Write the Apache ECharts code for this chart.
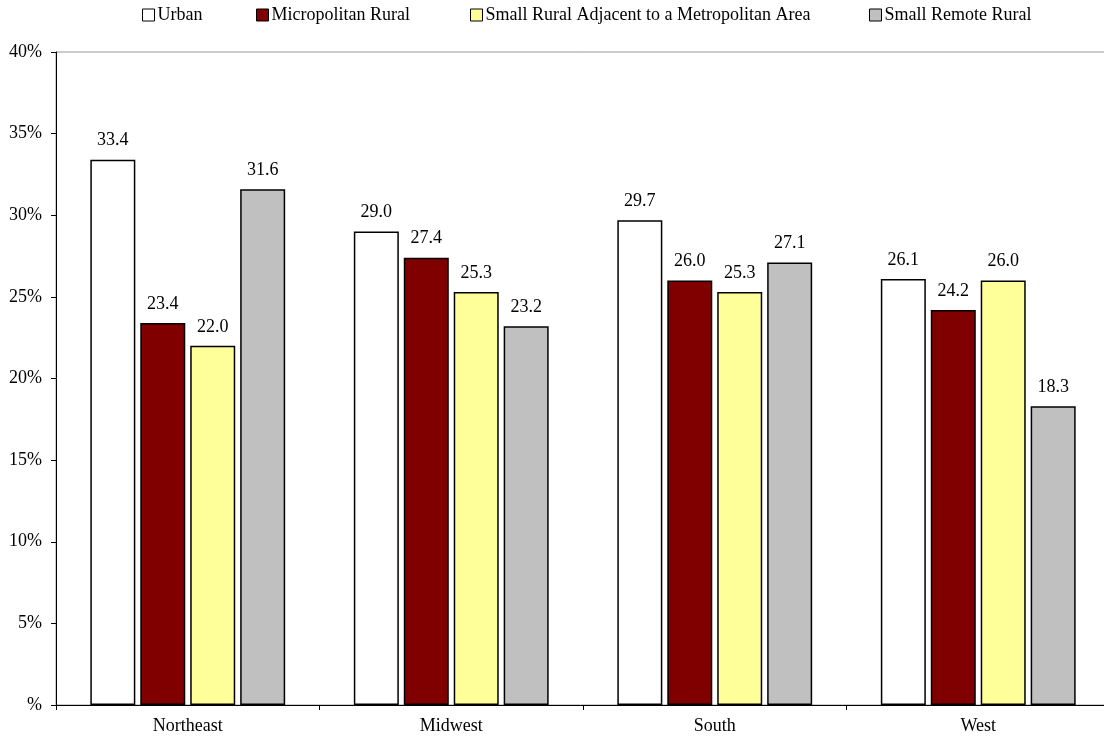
<!DOCTYPE html>
<html><head><meta charset="utf-8">
<script src="https://cdn.jsdelivr.net/npm/echarts@6/dist/echarts.min.js"></script>
<style>html,body{margin:0;padding:0;background:#fff}#c{width:1104px;height:736px}</style>
</head><body><div id="c"></div>
<script>
const categories = ['Northeast', 'Midwest', 'South', 'West'];
const seriesNames = ['Urban', 'Micropolitan Rural', 'Small Rural Adjacent to a Metropolitan Area', 'Small Remote Rural'];
const urban = [33.4, 29.0, 29.7, 26.1];
const micropolitan = [23.4, 27.4, 26.0, 24.2];
const smallAdjacent = [22.0, 25.3, 25.3, 26.0];
const smallRemote = [31.6, 23.2, 27.1, 18.3];
const colors = ['#ffffff', '#800000', '#ffff99', '#c0c0c0'];
const yTicks = [0, 5, 10, 15, 20, 25, 30, 35, 40];

const font = 'Liberation Serif, DejaVu Serif, serif';
const fs = 18;
const values = [urban, micropolitan, smallAdjacent, smallRemote];
const legendLeft = [142, 256, 470, 869];
const chart = echarts.init(document.getElementById('c'));
chart.setOption({
  animation: false,
  textStyle: {fontFamily: font, color: '#000'},
  legend: seriesNames.map((n, i) => ({
    top: 6, left: legendLeft[i], padding: 0,
    itemWidth: 12, itemHeight: 12, itemGap: 0,
    textStyle: {fontFamily: font, fontSize: fs, color: '#000', padding: [0, 0, 0, -2]},
    data: [{name: n, icon: 'rect', itemStyle: {color: colors[i], borderColor: '#000', borderWidth: 1}}]
  })),
  grid: {left: 56, width: 1054, top: 52, bottom: 31, show: true, borderColor: '#999', borderWidth: 1,
    outerBoundsMode: 'none', containLabel: false},
  xAxis: {
    type: 'category', data: categories,
    axisLine: {lineStyle: {color: '#000'}},
    axisTick: {show: true, length: 5, lineStyle: {color: '#000'}},
    axisLabel: {fontFamily: font, fontSize: fs, color: '#000', margin: 12},
    splitLine: {show: false}
  },
  yAxis: {
    type: 'value', min: 0, max: 40, interval: 5,
    axisLine: {show: true, lineStyle: {color: '#000'}},
    axisTick: {show: true, length: 5, lineStyle: {color: '#000'}},
    axisLabel: {fontFamily: font, fontSize: fs, color: '#000', margin: 14,
      formatter: v => yTicks.includes(v) ? (v === 0 ? '%' : v + '%') : ''},
    splitLine: {show: false}
  },
  series: seriesNames.map((n, i) => ({
    name: n, type: 'bar', data: values[i],
    barWidth: 45, barGap: '11%', barCategoryGap: '26%',
    itemStyle: {color: colors[i], borderColor: '#000', borderWidth: 1.5},
    label: {show: true, position: 'top', distance: 10, fontFamily: font, fontSize: fs, color: '#000',
      formatter: p => p.value.toFixed(1)}
  }))
});
</script></body></html>
